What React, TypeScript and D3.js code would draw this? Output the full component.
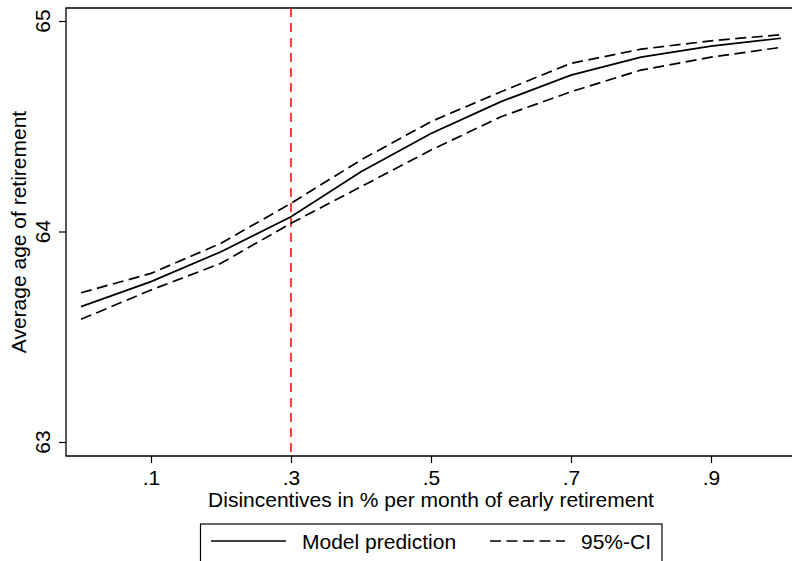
import React, { useEffect, useRef } from 'react';
import * as d3 from 'd3';

// Disincentive levels (share per month of early retirement)
const disincentives = [0, 0.1, 0.2, 0.3, 0.4, 0.5, 0.6, 0.7, 0.8, 0.9, 1.0];
const modelPrediction = [63.643, 63.762, 63.904, 64.07, 64.284, 64.466, 64.617, 64.743, 64.828, 64.881, 64.918];
const ciUpper = [63.709, 63.801, 63.944, 64.134, 64.34, 64.522, 64.664, 64.799, 64.866, 64.906, 64.935];
const ciLower = [63.583, 63.722, 63.849, 64.039, 64.213, 64.387, 64.545, 64.664, 64.767, 64.828, 64.875];

const xTicks = [0.1, 0.3, 0.5, 0.7, 0.9];
const yTicks = [63, 64, 65];
const referenceLine = 0.3;

const CI_DASH = '11 5.5';
const legendItems = [
  { label: 'Model prediction', dash: null },
  { label: '95%-CI', dash: CI_DASH }
];

const W = 792;
const H = 561;
const FONT = '"Liberation Sans", Arial, Helvetica, sans-serif';
const FS = 21;

export default function App() {
  const svgRef = useRef<SVGSVGElement>(null);

  useEffect(() => {
    if (!svgRef.current) return;
    const svg = d3.select(svgRef.current);
    svg.selectAll('*').remove();

    const frame = { left: 66, top: 8, bottom: 456, right: 800 };

    const x = d3.scaleLinear().domain([0, 1]).range([81, 781]);
    const y = d3.scaleLinear().domain([63, 65]).range([442, 21]);

    svg.append('rect')
      .attr('width', W)
      .attr('height', H)
      .attr('fill', '#fff');

    // Plot frame (left, top, bottom) - right side runs off the picture
    svg.append('path')
      .attr('d', `M${frame.right},${frame.top}H${frame.left}V${frame.bottom}H${frame.right}`)
      .attr('fill', 'none')
      .attr('stroke', '#000')
      .attr('stroke-width', 1.3);

    // X axis
    const fmt = (d: number) => d3.format('.1f')(d).replace(/^0/, '');
    const xAxis = svg.append('g')
      .attr('transform', `translate(0,${frame.bottom})`)
      .call(d3.axisBottom(x).tickValues(xTicks).tickSize(7).tickSizeOuter(0).tickPadding(7).tickFormat(fmt as any));
    xAxis.select('.domain').remove();
    xAxis.selectAll('line').attr('stroke', '#000').attr('stroke-width', 1.2);
    xAxis.selectAll('text')
      .attr('fill', '#000')
      .attr('font-family', FONT)
      .attr('font-size', FS);

    // Y axis (tick marks from axis, labels rotated like Stata)
    const yAxis = svg.append('g')
      .attr('transform', `translate(${frame.left},0)`)
      .call(d3.axisLeft(y).tickValues(yTicks).tickSize(7).tickSizeOuter(0).tickFormat(() => ''));
    yAxis.select('.domain').remove();
    yAxis.selectAll('line').attr('stroke', '#000').attr('stroke-width', 1.2);

    svg.append('g')
      .selectAll('text')
      .data(yTicks)
      .enter()
      .append('text')
      .attr('x', 50)
      .attr('y', d => y(d))
      .attr('transform', d => `rotate(-90 50 ${y(d)})`)
      .attr('text-anchor', 'middle')
      .attr('font-family', FONT)
      .attr('font-size', FS)
      .attr('fill', '#000')
      .text(d => d);

    // Axis titles
    const midY = (frame.top + frame.bottom) / 2;
    svg.append('text')
      .attr('x', 26)
      .attr('y', midY)
      .attr('transform', `rotate(-90 26 ${midY})`)
      .attr('text-anchor', 'middle')
      .attr('font-family', FONT)
      .attr('font-size', FS)
      .attr('fill', '#000')
      .text('Average age of retirement');

    svg.append('text')
      .attr('x', 431)
      .attr('y', 507)
      .attr('text-anchor', 'middle')
      .attr('font-family', FONT)
      .attr('font-size', FS)
      .attr('fill', '#000')
      .text('Disincentives in % per month of early retirement');

    // Reference line
    svg.append('line')
      .attr('x1', x(referenceLine))
      .attr('x2', x(referenceLine))
      .attr('y1', frame.top)
      .attr('y2', frame.bottom)
      .attr('stroke', '#ff0000')
      .attr('stroke-width', 1.5)
      .attr('stroke-dasharray', '9 6');

    const line = (vals: number[]) => d3.line<number>()
      .x((_, i) => x(disincentives[i]))
      .y(d => y(d))(vals);

    // CI bounds
    [ciUpper, ciLower].forEach(vals => {
      svg.append('path')
        .attr('d', line(vals))
        .attr('fill', 'none')
        .attr('stroke', '#000')
        .attr('stroke-width', 1.7)
        .attr('stroke-dasharray', CI_DASH);
    });

    // Model prediction
    svg.append('path')
      .attr('d', line(modelPrediction))
      .attr('fill', 'none')
      .attr('stroke', '#000')
      .attr('stroke-width', 1.7);

    // Legend
    const legend = svg.append('g');
    legend.append('rect')
      .attr('x', 200.5)
      .attr('y', 524)
      .attr('width', 461.5)
      .attr('height', 60)
      .attr('fill', '#fff')
      .attr('stroke', '#000')
      .attr('stroke-width', 1.2);

    const keyW = 75;
    const legendX = [{ l: 211, t: 302 }, { l: 490, t: 581 }];
    legendItems.forEach((item, i) => {
      legend.append('line')
        .attr('x1', legendX[i].l)
        .attr('x2', legendX[i].l + keyW)
        .attr('y1', 541)
        .attr('y2', 541)
        .attr('stroke', '#000')
        .attr('stroke-width', 1.6)
        .attr('stroke-dasharray', item.dash || null);
      legend.append('text')
        .attr('x', legendX[i].t)
        .attr('y', 548.5)
        .attr('font-family', FONT)
        .attr('font-size', FS)
        .attr('fill', '#000')
        .text(item.label);
    });
  }, []);

  return (
    <div style={{ position: 'absolute', left: 0, top: 0, width: W, height: H }}>
      <svg ref={svgRef} width={W} height={H} style={{ display: 'block' }} />
    </div>
  );
}
